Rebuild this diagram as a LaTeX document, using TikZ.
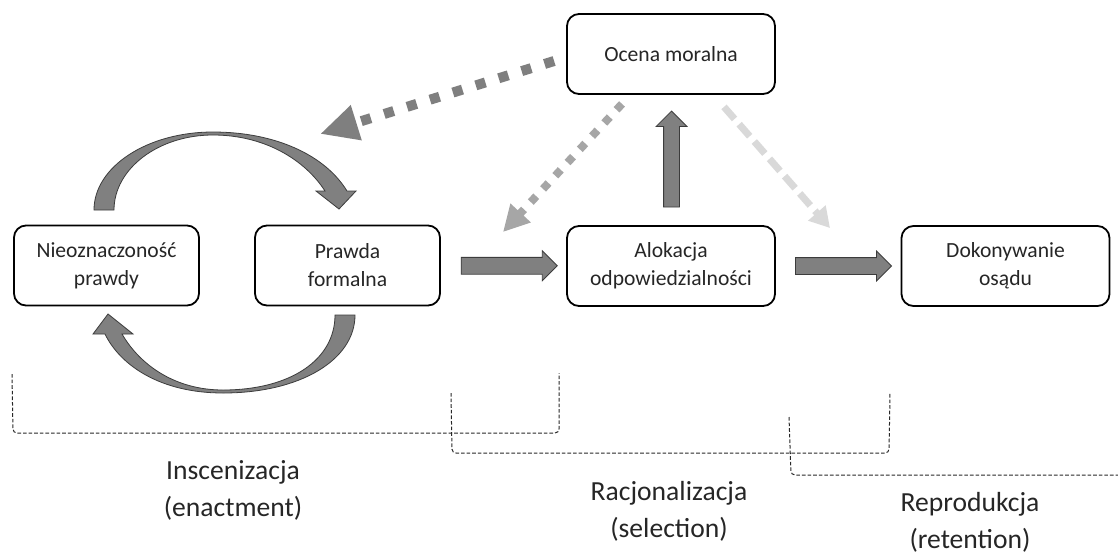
\documentclass[tikz,border=0pt]{standalone}
\usepackage{fontspec}
\setmainfont{Carlito}
\usetikzlibrary{arrows.meta,shapes.arrows,calc}
\definecolor{txt}{RGB}{38,38,38}
\definecolor{blockfill}{RGB}{128,128,128}
\definecolor{blockline}{RGB}{60,60,60}
\definecolor{dotdark}{RGB}{127,127,127}
\definecolor{dotmid}{RGB}{166,166,166}
\definecolor{dashlight}{RGB}{217,217,217}
\definecolor{bracketline}{RGB}{40,40,40}

\begin{document}
\begin{tikzpicture}[x=0.5pt,y=-0.5pt,
  box/.style={draw=black, line width=0.9pt, rounded corners=6pt, fill=white,
    align=center, text=txt, font=\fontsize{10.8}{14}\selectfont,
    inner sep=0pt, minimum height=40pt},
  narrowbox/.style={box, minimum width=92.5pt},
  widebox/.style={box, minimum width=104pt},
  blockarrow/.style={single arrow, draw=blockline, fill=blockfill, line width=0.4pt,
    inner sep=4pt, outer sep=0pt, minimum height=48pt,
    single arrow head extend=3.25pt, single arrow tip angle=90},
  curvedarrow/.style={draw=blockline, fill=blockfill, line width=0.4pt, line join=miter},
  darkdots/.style={draw=dotdark, line width=5pt, dash pattern=on 5pt off 7pt,
    -{Triangle[length=19pt,width=17pt]}},
  middots/.style={draw=dotmid, line width=4pt, dash pattern=on 4pt off 5pt,
    -{Triangle[length=13pt,width=13pt]}},
  lightdash/.style={draw=dashlight, line width=3.5pt, dash pattern=on 8pt off 3.5pt,
    -{Triangle[length=10pt,width=11pt]}},
  phase/.style={draw=bracketline, line width=0.5pt, dash pattern=on 1.8pt off 1pt,
    rounded corners=2pt},
  lbl/.style={align=center, text=txt, font=\fontsize{13.8}{18.5}\selectfont}
]
\fill[white] (0,0) rectangle (1118,558);
\useasboundingbox (0,0) rectangle (1118,558);

% process boxes
\node[narrowbox] (nie) at (106.5,265.5) {Nieoznaczoność\\prawdy};
\node[narrowbox] (pra) at (347.5,265.5) {Prawda\\formalna};
\node[widebox]   (oce) at (671,54)      {Ocena moralna};
\node[widebox]   (alo) at (671,266)     {Alokacja\\odpowiedzialności};
\node[widebox]   (dok) at (1005.5,266)  {Dokonywanie\\osądu};

% block arrows between the boxes
\node[blockarrow] (a1) at ($(pra.east)!0.5!(alo.west)+(1.5,0)$) {};
\node[blockarrow] (a2) at ($(alo.east)!0.5!(dok.west)+(1,0)$) {};
\node[blockarrow, inner sep=3.75pt, single arrow head extend=3.75pt,
      shape border rotate=90] (a3) at ($(alo.north)!0.5!(oce.south)+(0.5,3)$) {};

% loop between the two left boxes
\path[curvedarrow]
  (94,210) .. controls (94,167) and (147,132) .. (213,132)
  .. controls (275,132) and (325,155) .. (347,191)
  -- (356,191) -- (339,209) -- (316,191) -- (325,191)
  .. controls (305,160) and (265,135) .. (213,135)
  .. controls (158,135) and (114,169) .. (114,210) -- cycle;
\path[curvedarrow]
  (355,315) .. controls (355,360) and (300,393) .. (223,393)
  .. controls (160,393) and (120,365) .. (105,334)
  -- (93,334) -- (108,314) -- (133,334) -- (122,334)
  .. controls (140,365) and (175,390) .. (223,390)
  .. controls (290,390) and (335,360) .. (335,315) -- cycle;

% feedback from the moral judgement
\coordinate (loopTop) at (320,134);
\coordinate (nearAlo) at (503,232);
\coordinate (nearDok) at (830,228);
\draw[darkdots]  ($(oce.west)+(-12,7)$)   -- (loopTop);
\draw[middots]   ($(oce.south)+(-49,9)$)  -- (nearAlo);
\draw[lightdash] ($(oce.south)+(53,12)$)  -- (nearDok);

% phase brackets
\draw[phase] (12,374) -- (13,433) -- (559,433) -- (559,373);
\draw[phase] (451,393) -- (452,453) -- (889,453) -- (890,393);
\draw[phase] (789,417) -- (791,475) -- (1118,475);

% phase labels
\node[lbl] (ins) at (233,490) {Inscenizacja\\(enactment)};
\node[lbl] (rac) at (669,511) {Racjonalizacja\\(selection)};
\node[lbl] (rep) at (970,522) {Reprodukcja\\(retention)};
\end{tikzpicture}
\end{document}
